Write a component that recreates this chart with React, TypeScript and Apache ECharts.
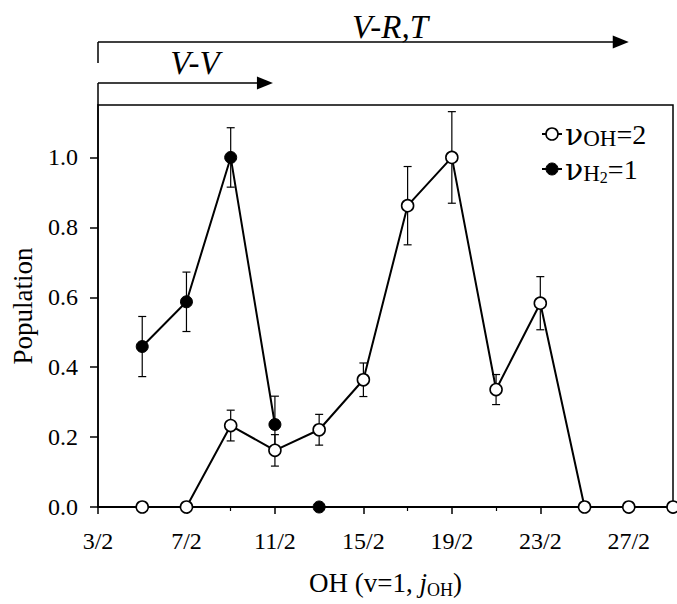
import React, { useEffect, useRef } from "react";
import * as echarts from "echarts";

const FONT = "'Liberation Serif', 'Times New Roman', serif";
const NU_FONT = "'DejaVu Serif', 'Liberation Serif', serif";

// rotational level j_OH (as "n/2")
const jLabels = ["5/2", "7/2", "9/2", "11/2", "13/2", "15/2", "17/2", "19/2", "21/2", "23/2", "25/2", "27/2", "29/2"];
// nu_OH = 2 (open circles)
const ohPop = [0, 0, 0.233, 0.162, 0.221, 0.364, 0.862, 1.0, 0.336, 0.583, 0, 0, 0];
const ohErr = [0, 0, 0.044, 0.045, 0.044, 0.048, 0.112, 0.131, 0.043, 0.076, 0, 0, 0];
// nu_H2 = 1 (filled circles)
const h2Labels = ["5/2", "7/2", "9/2", "11/2"];
const h2Pop = [0.459, 0.587, 1.0, 0.236];
const h2Err = [0.086, 0.085, 0.085, 0.081];
const h2LoneLabels = ["13/2"];
const h2LonePop = [0];
// axis
const xTickLabels = ["3/2", "7/2", "11/2", "15/2", "19/2", "23/2", "27/2"];
const xMinLabel = "3/2";
const xMaxLabel = "29/2";
const yMax = 1.15;
const yStep = 0.2;

const num = (s: string) => parseInt(s.split("/")[0], 10);
const base = num(xMinLabel);
const pos = (s: string) => (num(s) - base) / 2;

export default function App() {
  const ref = useRef<HTMLDivElement>(null);
  useEffect(() => {
    if (!ref.current) return;
    const chart = echarts.init(ref.current, null, { renderer: "svg" });
    const errData: number[][] = [];
    jLabels.forEach((l, i) => {
      if (ohErr[i] > 0) errData.push([pos(l), ohPop[i] - ohErr[i], ohPop[i] + ohErr[i]]);
    });
    h2Labels.forEach((l, i) => {
      if (h2Err[i] > 0) errData.push([pos(l), h2Pop[i] - h2Err[i], h2Pop[i] + h2Err[i]]);
    });
    const labelSet = new Set(xTickLabels.map(pos));
    const option: any = {
      animation: false,
      backgroundColor: "#fff",
      grid: {
        left: 98,
        right: 4,
        top: 105,
        bottom: 97,
        show: true,
        borderColor: "#000",
        borderWidth: 1.5,
        backgroundColor: "transparent",
      },
      xAxis: {
        type: "value",
        min: 0,
        max: pos(xMaxLabel),
        interval: 2,
        splitLine: { show: false },
        axisLine: { lineStyle: { color: "#000", width: 2 } },
        axisTick: { length: 7, lineStyle: { color: "#000", width: 1.5 } },
        minorTick: { show: true, splitNumber: 2, length: 4, lineStyle: { color: "#000", width: 1.2 } },
        axisLabel: {
          margin: 22,
          color: "#000",
          fontFamily: FONT,
          fontSize: 24,
          showMaxLabel: false,
          formatter: (v: number) => {
            const r = Math.round(v);
            if (Math.abs(v - r) > 1e-6 || !labelSet.has(r)) return "";
            return `${r * 2 + base}/2`;
          },
        },
        name: "{a|OH (v=1, }{i|j}{s|OH}{a|)}",
        nameLocation: "middle",
        nameGap: 60,
        nameTextStyle: {
          color: "#000",
          rich: {
            a: { fontFamily: FONT, fontSize: 27, lineHeight: 32, color: "#000" },
            i: { fontFamily: FONT, fontSize: 27, lineHeight: 32, fontStyle: "italic", color: "#000" },
            s: { fontFamily: FONT, fontSize: 18, lineHeight: 14, verticalAlign: "bottom", color: "#000" },
          },
        },
      },
      yAxis: {
        type: "value",
        min: 0,
        max: yMax,
        interval: yStep,
        splitLine: { show: false },
        axisLine: { show: true, lineStyle: { color: "#000", width: 1.5 } },
        axisTick: { show: true, length: 8, lineStyle: { color: "#000", width: 1.5 } },
        axisLabel: {
          margin: 20,
          color: "#000",
          fontFamily: FONT,
          fontSize: 24,
          showMaxLabel: false,
          formatter: (v: number) => {
            const k = v / yStep;
            if (Math.abs(k - Math.round(k)) > 1e-6) return "";
            return v.toFixed(1);
          },
        },
        name: "Population",
        nameLocation: "middle",
        nameGap: 62,
        nameTextStyle: { color: "#000", fontFamily: FONT, fontSize: 27 },
      },
      series: [
        {
          type: "custom",
          name: "err",
          z: 1,
          data: errData,
          encode: { x: 0, y: [1, 2] },
          renderItem: (params: any, api: any) => {
            const x = api.value(0);
            const lo = api.coord([x, api.value(1)]);
            const hi = api.coord([x, api.value(2)]);
            const w = 4;
            const st = { stroke: "#000", lineWidth: 1.2 };
            return {
              type: "group",
              children: [
                { type: "line", shape: { x1: hi[0], y1: hi[1], x2: lo[0], y2: lo[1] }, style: st },
                { type: "line", shape: { x1: hi[0] - w, y1: hi[1], x2: hi[0] + w, y2: hi[1] }, style: st },
                { type: "line", shape: { x1: lo[0] - w, y1: lo[1], x2: lo[0] + w, y2: lo[1] }, style: st },
              ],
            };
          },
        },
        {
          type: "line",
          name: "νH2=1",
          z: 3,
          data: h2Labels.map((l, i) => [pos(l), h2Pop[i]]),
          symbol: "circle",
          symbolSize: 12,
          lineStyle: { color: "#000", width: 2 },
          itemStyle: { color: "#000", borderColor: "#000", borderWidth: 1, opacity: 1 },
        },
        {
          type: "scatter",
          name: "νH2=1",
          z: 4,
          data: h2LoneLabels.map((l, i) => [pos(l), h2LonePop[i]]),
          symbol: "circle",
          symbolSize: 12,
          itemStyle: { color: "#000", borderColor: "#000", borderWidth: 1, opacity: 1 },
        },
        {
          type: "line",
          name: "νOH=2",
          z: 4,
          data: jLabels.map((l, i) => [pos(l), ohPop[i]]),
          symbol: "circle",
          symbolSize: 12,
          lineStyle: { color: "#000", width: 2 },
          itemStyle: { color: "#fff", borderColor: "#000", borderWidth: 1.6, opacity: 1 },
        },
      ],
    };
    chart.setOption(option);

    const p0 = chart.convertToPixel({ gridIndex: 0 }, [0, yMax]) as number[];
    const left = p0[0];
    const top = p0[1];
    const vvTip = (chart.convertToPixel({ gridIndex: 0 }, [pos("11/2"), 0]) as number[])[0] - 2;
    const vrTip = (chart.convertToPixel({ gridIndex: 0 }, [pos("27/2"), 0]) as number[])[0];
    const vvY = top - 22;
    const vrY = top - 63;
    const lineSt = { stroke: "#000", lineWidth: 1.5 };
    const head = (tip: number, y: number) => ({
      type: "polygon",
      shape: { points: [[tip - 16, y - 6.5], [tip, y], [tip - 16, y + 6.5]] },
      style: { fill: "#000" },
    });
    const legX = 542;
    const row1 = 134;
    const row2 = 169;
    const legRich = {
      n: { fontFamily: NU_FONT, fontSize: 30, lineHeight: 32, fill: "#000" },
      a: { fontFamily: FONT, fontSize: 28, lineHeight: 32, fill: "#000" },
      s: { fontFamily: FONT, fontSize: 23, lineHeight: 15, verticalAlign: "bottom", fill: "#000" },
      ss: { fontFamily: FONT, fontSize: 16, lineHeight: 4, verticalAlign: "bottom", fill: "#000" },
    };
    chart.setOption({
      graphic: [
        { type: "line", shape: { x1: left, y1: vvY, x2: left, y2: top }, style: lineSt },
        { type: "line", shape: { x1: left, y1: vvY, x2: vvTip - 10, y2: vvY }, style: lineSt },
        head(vvTip, vvY),
        { type: "line", shape: { x1: left, y1: vrY, x2: left, y2: vrY + 21 }, style: lineSt },
        { type: "line", shape: { x1: left, y1: vrY, x2: vrTip - 10, y2: vrY }, style: lineSt },
        head(vrTip, vrY),
        {
          type: "text",
          x: 195,
          y: 63,
          style: {
            text: "V-V",
            fontFamily: FONT,
            fontSize: 33,
            fontStyle: "italic",
            fill: "#000",
            align: "center",
            verticalAlign: "middle",
          },
        },
        {
          type: "text",
          x: 390,
          y: 27,
          style: {
            text: "V-R,T",
            fontFamily: FONT,
            fontSize: 33,
            fontStyle: "italic",
            fill: "#000",
            align: "center",
            verticalAlign: "middle",
          },
        },
        { type: "line", shape: { x1: legX, y1: row1, x2: legX + 20, y2: row1 }, style: { stroke: "#000", lineWidth: 2 } },
        { type: "circle", shape: { cx: legX + 10, cy: row1, r: 6 }, style: { fill: "#fff", stroke: "#000", lineWidth: 1.6 } },
        {
          type: "text",
          x: legX + 23,
          y: row1,
          style: { text: "{n|ν}{s|OH}{a|=2}", rich: legRich, verticalAlign: "middle", align: "left" },
        },
        { type: "line", shape: { x1: legX, y1: row2, x2: legX + 20, y2: row2 }, style: { stroke: "#000", lineWidth: 2 } },
        { type: "circle", shape: { cx: legX + 10, cy: row2, r: 6 }, style: { fill: "#000", stroke: "#000", lineWidth: 1 } },
        {
          type: "text",
          x: legX + 23,
          y: row2,
          style: { text: "{n|ν}{s|H}{ss|2}{a|=1}", rich: legRich, verticalAlign: "middle", align: "left" },
        },
      ],
    });
    return () => chart.dispose();
  }, []);
  return (
    <div
      ref={ref}
      style={{ position: "fixed", left: 0, top: 0, width: 677, height: 604, background: "#fff" }}
    />
  );
}
